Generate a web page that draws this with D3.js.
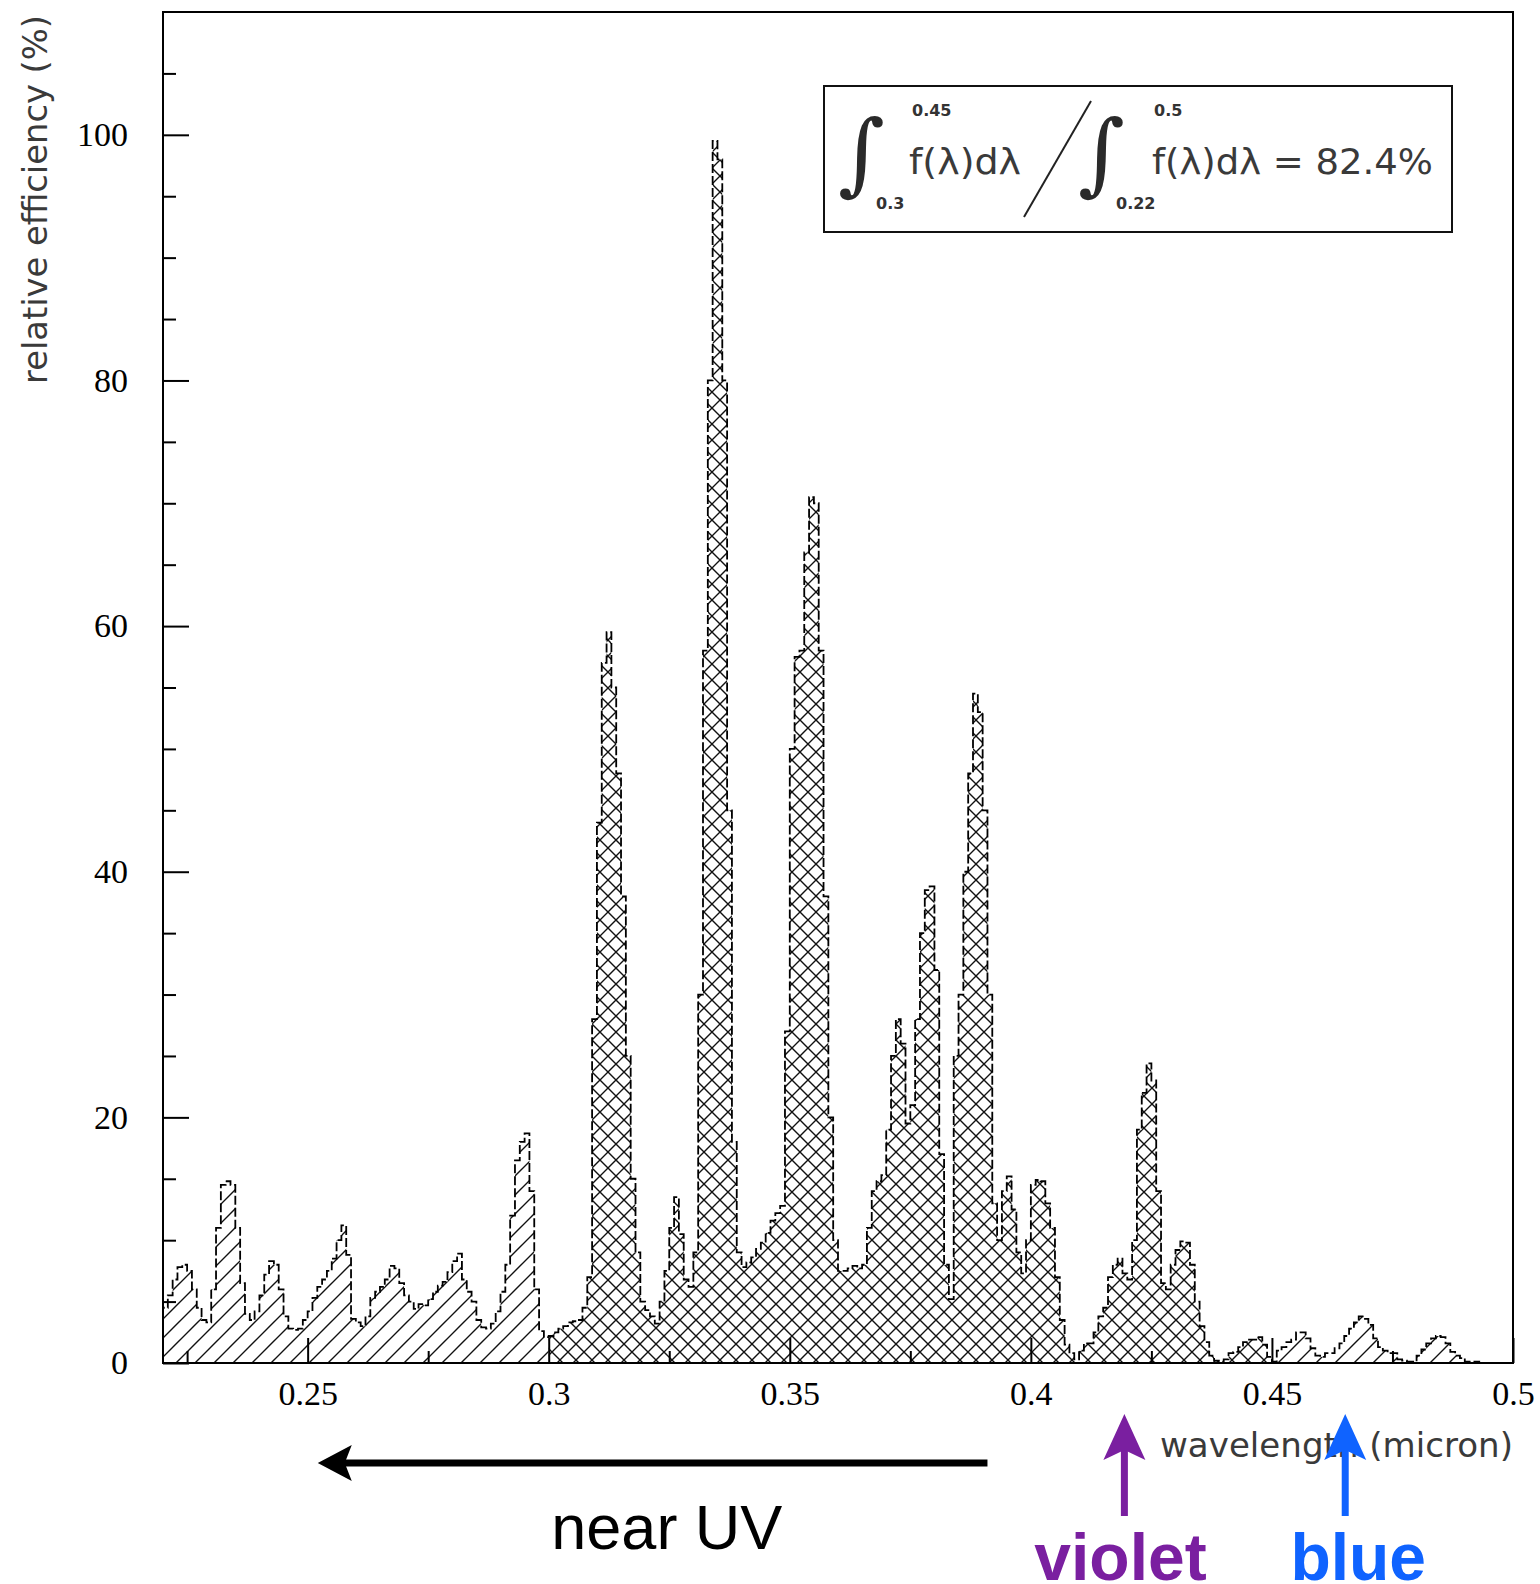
<!DOCTYPE html>
<html><head><meta charset="utf-8">
<script src="https://cdn.jsdelivr.net/npm/d3@7"></script>
<style>body{margin:0;background:#fff}</style>
</head><body>
<svg id="chart" width="1540" height="1584"></svg>
<script>
// ---- data ----
const lambdaStart = 0.22;   // micron, left edge of first bin
const lambdaStep = 0.001;   // micron, bin width
const efficiency = [
 4.5,5.5,6.8,7.8,8.0,7.5,6.0,4.5,3.5,3.3,
 6.0,11.0,14.5,14.8,14.5,11.0,6.5,4.0,3.5,4.2,
 5.5,7.2,8.3,8.0,6.0,3.8,2.8,2.7,2.8,3.5,
 4.2,5.3,6.2,6.8,7.5,8.5,10.0,11.2,8.8,3.6,
 3.3,3.0,3.8,5.3,5.8,6.2,6.8,7.9,7.7,6.5,
 5.5,5.0,4.4,4.8,4.7,5.2,5.8,6.3,6.6,7.4,
 8.3,8.9,6.8,5.8,5.0,3.5,2.9,2.8,3.2,4.2,
 5.8,8.0,12.0,16.5,18.0,18.7,14.0,6.0,2.6,2.1,
 2.2,2.5,2.8,3.0,3.3,3.4,3.5,4.5,7.0,28,
 44,57,59.5,55,48,38,25,15,9,5,
 4.3,3.8,3.2,5.0,7.5,11,13.5,10.5,6.8,6.2,
 9,30,58,80,99.5,98,80,45,18,9,
 7.8,8.2,8.6,9.3,9.8,10.6,11.6,12.2,12.8,27,
 50,57.5,58,66,70.5,70,58,38,20,10,
 7.5,7.5,7.7,7.9,7.7,8,11,14,14.8,15.3,
 19,25,28,26,19.5,21,28,35,38.5,38.8,
 32,17,8,5.2,25,30,40,48,54.5,53,
 45,30,13,10,14,15.2,12.5,9,7.3,10,
 14.5,14.9,14.8,13,11,7,3.5,1.5,0.8,0.3,
 1.0,1.6,1.6,2.5,3.8,4.5,7,8.0,8.5,7.3,
 6.8,10,19,22,24.4,23,14,6.5,6.0,8,
 9.2,9.9,9.8,8,5,3,1.7,0.6,0.2,0.1,
 0.3,0.8,0.9,1.3,1.7,1.9,1.9,2.1,1.5,0.5,
 0.1,1.0,1.3,1.7,1.9,2.5,2.5,2.0,1.2,0.6,
 0.5,0.8,0.8,1.2,1.6,2.2,2.8,3.3,3.8,3.6,
 3.1,2.0,1.3,1.0,0.8,0.8,0.3,0.2,0.1,0.1,
 0.6,1.1,1.6,2.0,2.2,2.1,1.6,0.9,0.6,0.4,
 0.1,0.1,0.1,0,0,0,0,0,0,0
];
const regionBounds = [0.22, 0.30, 0.45, 0.50];
const regionHatch = ["single", "cross", "single"];
const yMajorTicks = [0, 20, 40, 60, 80, 100];
const yMinorTicks = [5,10,15,25,30,35,45,50,55,65,70,75,85,90,95,105];
const xMajorTicks = [0.25, 0.30, 0.35, 0.40, 0.45, 0.50];
const xTickLabels = ["0.25", "0.3", "0.35", "0.4", "0.45", "0.5"];
const xMinorTicks = [0.225, 0.275, 0.325, 0.375, 0.425, 0.475];
const yTitle = "relative efficiency (%)";
const xTitle = "wavelength (micron)";
const ratioText = "82.4%";
const numLower = "0.3", numUpper = "0.45", denLower = "0.22", denUpper = "0.5";
const uvArrow = {label: "near UV", from: 0.391, to: 0.2521, labelAt: 0.3245};
const colorArrows = [
  {label: "violet", at: 0.4194, labelAt: 0.4186, color: "#7a1fa0"},
  {label: "blue", at: 0.4652, labelAt: 0.4679, color: "#0f63ff"}
];

// ---- chart ----
const svg = d3.select("#chart");
svg.append("rect").attr("width",1540).attr("height",1584).attr("fill","#fff");
const x = d3.scaleLinear().domain([0.22, 0.50]).range([163, 1513]);
const y = d3.scaleLinear().domain([0, 110]).range([1363, 12]);

const defs = svg.append("defs");
const ps = defs.append("pattern").attr("id","hatchSingle").attr("patternUnits","userSpaceOnUse")
  .attr("width",19).attr("height",19);
ps.append("path").attr("d","M0,19 L19,0 M-2,2 L2,-2 M17,21 L21,17")
  .attr("stroke","#111").attr("stroke-width",1.4);
const pc = defs.append("pattern").attr("id","hatchCross").attr("patternUnits","userSpaceOnUse")
  .attr("width",16).attr("height",16);
pc.append("path").attr("d","M0,16 L16,0 M-2,2 L2,-2 M14,18 L18,14 M0,0 L16,16 M-2,14 L2,18 M14,-2 L18,2")
  .attr("stroke","#111").attr("stroke-width",1.4);

const bins = efficiency.map((v,i)=>({l: +(lambdaStart + i*lambdaStep).toFixed(4), v}));
const area = d3.area().curve(d3.curveStepAfter).x(d=>x(d.l)).y0(y(0)).y1(d=>y(d.v));
regionHatch.forEach((h, k) => {
  const lo = regionBounds[k], hi = regionBounds[k+1];
  const pts = bins.filter(b => b.l >= lo - 1e-9 && b.l < hi - 1e-9);
  pts.push({l: hi, v: pts[pts.length-1].v});
  svg.append("path").attr("d", area(pts))
    .attr("fill", h === "single" ? "url(#hatchSingle)" : "url(#hatchCross)");
});
const outlinePts = [{l:0.22, v:0}, ...bins, {l:0.50, v:0}];
const line = d3.line().curve(d3.curveStepAfter).x(d=>x(d.l)).y(d=>y(d.v));
svg.append("path").attr("d", line(outlinePts)).attr("fill","none")
  .attr("stroke","#000").attr("stroke-width",1.8).attr("stroke-dasharray","9,3");

// axes
const gy = svg.append("g").attr("transform","translate(163,0)")
  .call(d3.axisLeft(y).tickValues(yMajorTicks).tickSize(-26).tickPadding(35).tickFormat(d3.format("d")));
const gy2 = svg.append("g").attr("transform","translate(163,0)")
  .call(d3.axisLeft(y).tickValues(yMinorTicks).tickSize(-13).tickFormat(""));
const gx = svg.append("g").attr("transform","translate(0,1363)")
  .call(d3.axisBottom(x).tickValues(xMajorTicks).tickSize(-25).tickPadding(18)
    .tickFormat((d,i)=>xTickLabels[i]));
const gx2 = svg.append("g").attr("transform","translate(0,1363)")
  .call(d3.axisBottom(x).tickValues(xMinorTicks).tickSize(-12).tickFormat(""));
[gy,gy2,gx,gx2].forEach(g => {
  g.select(".domain").remove();
  g.selectAll(".tick line").attr("stroke","#000").attr("stroke-width",2);
  g.selectAll(".tick text").attr("font-family","'Liberation Serif', serif")
    .attr("font-size",34).attr("fill","#000");
});
svg.append("rect").attr("x",163).attr("y",12).attr("width",1350).attr("height",1351)
  .attr("fill","none").attr("stroke","#000").attr("stroke-width",2);

// axis titles
svg.append("text").attr("transform","translate(47,384) rotate(-90)")
  .attr("font-family","'DejaVu Sans', sans-serif").attr("font-size",33).attr("fill","#3a3a3a")
  .attr("textLength",369).attr("lengthAdjust","spacingAndGlyphs").text(yTitle);
svg.append("text").attr("x",1160).attr("y",1457)
  .attr("font-family","'DejaVu Sans', sans-serif").attr("font-size",33).attr("fill","#3a3a3a")
  .attr("textLength",353).attr("lengthAdjust","spacingAndGlyphs").text(xTitle);

// formula box
const lg = svg.append("g");
lg.append("rect").attr("x",824).attr("y",86).attr("width",628).attr("height",146)
  .attr("fill","#fff").attr("stroke","#111").attr("stroke-width",2);
const ff = "'DejaVu Sans', sans-serif";
function integral(xPos){
  lg.append("text").attr("x",xPos).attr("y",184).attr("font-family","'DejaVu Serif', serif")
    .attr("font-style","italic").attr("font-size",90).attr("fill","#2a2a2a").text("∫");
}
integral(838); integral(1078);
function limit(xPos, yPos, t){
  lg.append("text").attr("x",xPos).attr("y",yPos).attr("font-family",ff).attr("font-size",16)
    .attr("font-weight","bold").attr("fill","#333").text(t);
}
limit(912,116,numUpper); limit(876,209,numLower); limit(1154,116,denUpper); limit(1116,209,denLower);
lg.append("text").attr("x",909).attr("y",174).attr("font-family",ff).attr("font-size",36).attr("fill","#3a3a3a")
  .attr("textLength",112).attr("lengthAdjust","spacingAndGlyphs").text("f(λ)dλ");
lg.append("line").attr("x1",1091).attr("y1",101).attr("x2",1024).attr("y2",217)
  .attr("stroke","#222").attr("stroke-width",2);
lg.append("text").attr("x",1152).attr("y",174).attr("font-family",ff).attr("font-size",36).attr("fill","#3a3a3a")
  .attr("textLength",281).attr("lengthAdjust","spacingAndGlyphs").text("f(λ)dλ = " + ratioText);

// annotations
const ay = 1463;
const tip = x(uvArrow.to);
svg.append("line").attr("x1",x(uvArrow.from)).attr("y1",ay).attr("x2",tip+24).attr("y2",ay)
  .attr("stroke","#000").attr("stroke-width",7);
svg.append("path").attr("d",`M${tip},${ay} L${tip+34},${ay-18} L${tip+27},${ay} L${tip+34},${ay+18} Z`).attr("fill","#000");
svg.append("text").attr("x",x(uvArrow.labelAt)).attr("y",1549).attr("text-anchor","middle")
  .attr("font-family","'Liberation Sans', Arial, sans-serif").attr("font-size",63).attr("fill","#000").text(uvArrow.label);
colorArrows.forEach(a => {
  const ax = x(a.at);
  svg.append("line").attr("x1",ax).attr("y1",1516).attr("x2",ax).attr("y2",1440)
    .attr("stroke",a.color).attr("stroke-width",7);
  svg.append("path").attr("d",`M${ax},1414 L${ax+21},1460 L${ax},1450 L${ax-21},1460 Z`).attr("fill",a.color);
  svg.append("text").attr("x",x(a.labelAt)).attr("y",1580).attr("text-anchor","middle")
    .attr("font-family","'Liberation Sans', Arial, sans-serif").attr("font-weight","bold")
    .attr("font-size",66).attr("fill",a.color).text(a.label);
});
</script>
</body></html>
